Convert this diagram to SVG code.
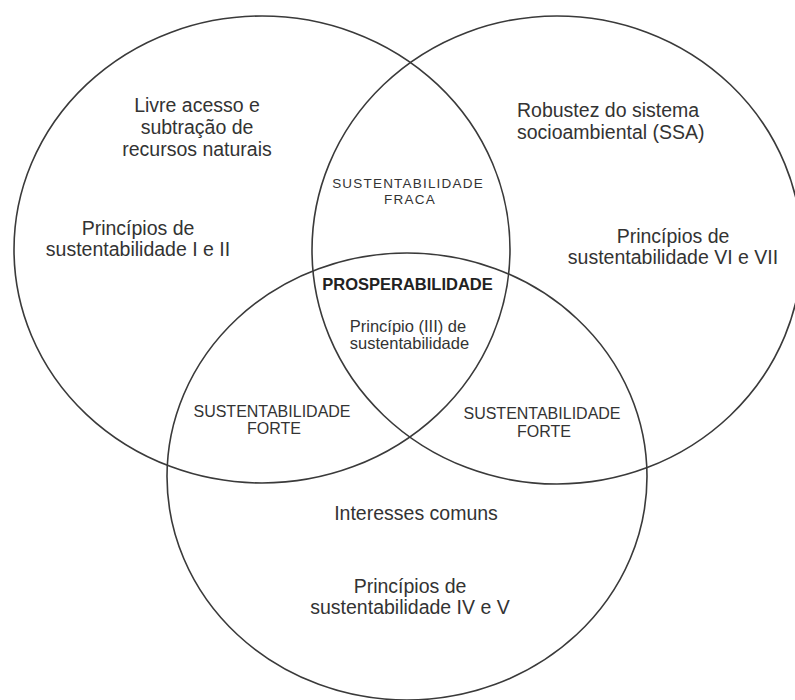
<svg xmlns="http://www.w3.org/2000/svg" width="795" height="700" viewBox="0 0 795 700">
<style>
.set{fill:none;stroke:#3a3a3a;stroke-width:1.6}
.t{font-family:"Liberation Sans",Arial,sans-serif;fill:#333;font-size:19.5px;text-anchor:middle}
.m{font-family:"Liberation Sans",Arial,sans-serif;fill:#333;font-size:16.5px;text-anchor:middle}
.c{font-family:"Liberation Sans",Arial,sans-serif;fill:#333;font-size:16px;text-anchor:middle}
.s{font-family:"Liberation Sans",Arial,sans-serif;fill:#333;font-size:13.5px;letter-spacing:1.2px;text-anchor:middle}
.b{font-family:"Liberation Sans",Arial,sans-serif;fill:#222;font-size:16.5px;font-weight:bold;text-anchor:middle}
</style>
<rect width="795" height="700" fill="#fff"/>
<g id="sets">
<g id="set-left"><ellipse class="set" cx="262" cy="249.5" rx="248" ry="233.5"/></g>
<g id="set-right"><ellipse class="set" cx="557" cy="250" rx="245" ry="234"/></g>
<g id="set-bottom"><ellipse class="set" cx="407" cy="476.5" rx="240" ry="223.5"/></g>
</g>
<g id="connectors"></g>
<g id="label-left-top"><text class="t" x="197" y="112">Livre acesso e</text><text class="t" x="197" y="134">subtração de</text><text class="t" x="197" y="156">recursos naturais</text></g>
<g id="label-left-principles"><text class="t" x="138" y="235">Princípios de</text><text class="t" x="138" y="256">sustentabilidade I e II</text></g>
<g id="label-right-top"><text class="t" x="517" y="117" style="text-anchor:start">Robustez do sistema</text><text class="t" x="517" y="139" style="text-anchor:start">socioambiental (SSA)</text></g>
<g id="label-right-principles"><text class="t" x="673" y="243">Princípios de</text><text class="t" x="673" y="264">sustentabilidade VI e VII</text></g>
<g id="label-bottom"><text class="t" x="416" y="520">Interesses comuns</text></g>
<g id="label-bottom-principles"><text class="t" x="410" y="593">Princípios de</text><text class="t" x="410" y="614">sustentabilidade IV e V</text></g>
<g id="label-fraca"><text class="s" x="408" y="188">SUSTENTABILIDADE</text><text class="s" x="410" y="204">FRACA</text></g>
<g id="label-center"><text class="b" x="407.5" y="290">PROSPERABILIDADE</text><text class="m" x="408" y="332">Princípio (III) de</text><text class="m" x="409.5" y="349">sustentabilidade</text></g>
<g id="label-forte-left"><text class="c" x="272" y="417">SUSTENTABILIDADE</text><text class="c" x="274" y="434">FORTE</text></g>
<g id="label-forte-right"><text class="c" x="542" y="419">SUSTENTABILIDADE</text><text class="c" x="544" y="437">FORTE</text></g>
</svg>
